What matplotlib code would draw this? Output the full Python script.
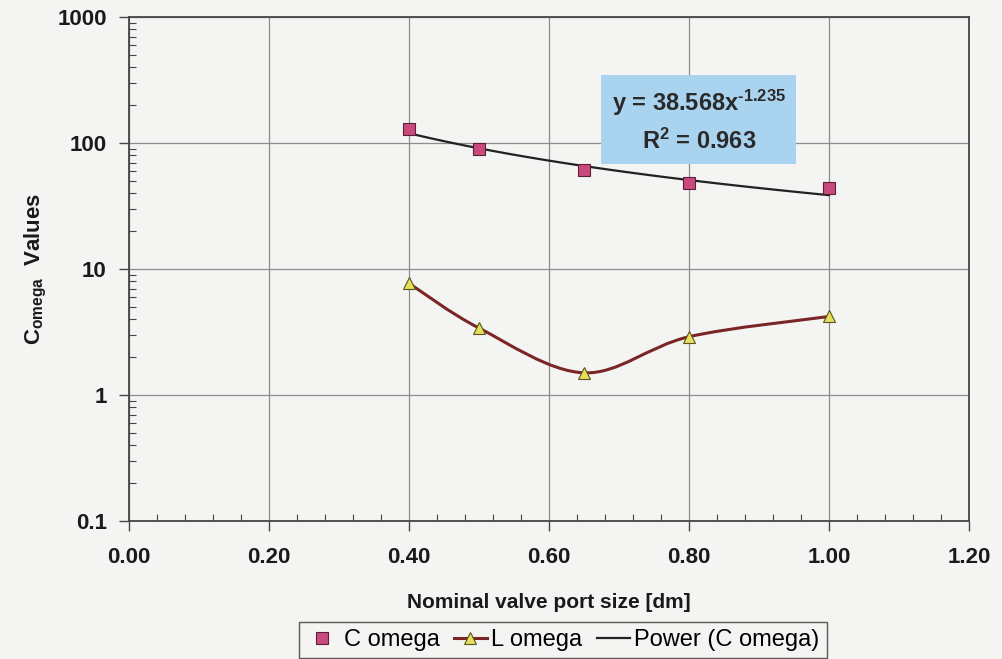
import numpy as np
import matplotlib
matplotlib.use("Agg")
import matplotlib.pyplot as plt
from matplotlib.path import Path
from matplotlib.patches import PathPatch
from matplotlib.lines import Line2D
from matplotlib.ticker import FixedLocator, MultipleLocator, LogLocator, NullFormatter

plt.rcParams["font.family"] = ["Liberation Sans", "DejaVu Sans"]
plt.rcParams["mathtext.fontset"] = "custom"
plt.rcParams["mathtext.rm"] = "Liberation Sans:bold"
plt.rcParams["mathtext.it"] = "Liberation Sans:bold"
plt.rcParams["mathtext.bf"] = "Liberation Sans:bold"

# ---- data ----
port_size = [0.40, 0.50, 0.65, 0.80, 1.00]
c_omega   = [129, 90, 61, 48, 44]
l_omega   = [7.7, 3.4, 1.5, 2.9, 4.2]

# power trendline fitted to C omega
fit_coef = 38.568
fit_exp  = -1.235
fit_r2   = 0.963

x_ticks   = [0.0, 0.2, 0.4, 0.6, 0.8, 1.0, 1.2]
y_ticks   = [0.1, 1, 10, 100, 1000]
y_labels  = ["0.1", "1", "10", "100", "1000"]

BG        = "#f4f4f2"
C_FACE    = "#c94a7c"
C_EDGE    = "#5a2035"
L_LINE    = "#7a2626"
L_FACE    = "#e6df5a"
L_EDGE    = "#5a5520"
GRID      = "#8c8c8c"
SPINE     = "#454545"


def smooth_path(xs, ys):
    """Smoothed line through the points: cubic Bezier segments in (x, log10 y)."""
    p = np.column_stack([xs, np.log10(ys)])
    n = len(p)
    verts = [p[0]]
    codes = [Path.MOVETO]
    for i in range(n - 1):
        prev = p[i - 1] if i > 0 else p[i]
        nxt = p[i + 2] if i + 2 < n else p[i + 1]
        c1 = p[i] + (p[i + 1] - prev) / 6.0
        c2 = p[i + 1] - (nxt - p[i]) / 6.0
        verts += [c1, c2, p[i + 1]]
        codes += [Path.CURVE4] * 3
    return Path(verts, codes)


fig = plt.figure(figsize=(10.03, 6.59), dpi=100, facecolor=BG)
ax = fig.add_axes([0.1286, 0.2094, 0.8375, 0.7648], facecolor=BG)

ax.set_xscale("linear")
ax.set_yscale("log")
ax.set_xlim(0.0, 1.2)
ax.set_ylim(0.1, 1000)

# gridlines and ticks
ax.xaxis.set_major_locator(FixedLocator(x_ticks))
ax.xaxis.set_minor_locator(MultipleLocator(0.04))
ax.yaxis.set_major_locator(FixedLocator(y_ticks))
ax.yaxis.set_minor_locator(LogLocator(base=10, subs=np.arange(2, 10)))
ax.yaxis.set_minor_formatter(NullFormatter())
ax.set_xticklabels([f"{v:.2f}" for v in x_ticks])
ax.set_yticklabels(y_labels)
ax.grid(True, which="major", color=GRID, lw=0.9)
ax.set_axisbelow(True)

ax.tick_params(which="major", direction="out", length=7, width=1.0, color=SPINE,
               labelsize=16)
ax.tick_params(axis="x", which="major", pad=12)
ax.tick_params(axis="y", which="major", pad=9)
ax.tick_params(which="minor", direction="in", length=5, width=0.8, color=SPINE)
for lbl in ax.get_xticklabels() + ax.get_yticklabels():
    lbl.set_fontweight("bold")
    lbl.set_color("#1a1a1a")
for s in ax.spines.values():
    s.set_color(SPINE)
    s.set_linewidth(1.3)

# L omega: smoothed line through points
lpath = smooth_path(port_size, l_omega)
ax.add_patch(PathPatch(lpath, transform=ax.transLimits + ax.transAxes,
                       facecolor="none", edgecolor=L_LINE, lw=2.2, zorder=3))
ax.plot(port_size, l_omega, ls="none", marker="^", ms=8, mfc=L_FACE,
        mec=L_EDGE, mew=0.8, zorder=4)

# power trendline
xf = np.linspace(port_size[0], port_size[-1], 120)
ax.plot(xf, fit_coef * xf ** fit_exp, color="#222222", lw=1.6, zorder=3)

# C omega markers
ax.plot(port_size, c_omega, ls="none", marker="s", ms=8, mfc=C_FACE,
        mec=C_EDGE, mew=0.8, zorder=5)

# trendline equation
eq = (f"y = {fit_coef:.3f}x$^{{\\text{{{fit_exp:.3f}}}}}$\n"
      f"R$^2$ = {fit_r2:.3f}")
ax.text(0.814, 150, eq, ha="center", va="center", fontsize=17, fontweight="bold",
        color="#2a2a2a", linespacing=1.5, zorder=6,
        bbox=dict(boxstyle="square,pad=0.45", facecolor="#a9d3ef", edgecolor="none"))

ax.set_xlabel("Nominal valve port size [dm]", fontsize=15, fontweight="bold",
              labelpad=18, color="#1a1a1a")
ax.set_ylabel(r"C$_{\mathrm{omega}}$  Values", fontsize=16, fontweight="bold",
              labelpad=6, color="#1a1a1a")

handles = [
    Line2D([], [], ls="none", marker="s", ms=8, mfc=C_FACE, mec=C_EDGE, mew=0.8),
    Line2D([], [], color=L_LINE, lw=2.2, marker="^", ms=8, mfc=L_FACE, mec=L_EDGE, mew=0.8),
    Line2D([], [], color="#222222", lw=1.6),
]
leg = fig.legend(handles, ["C omega", "L omega", "Power (C omega)"],
                 loc="upper center", bbox_to_anchor=(0.561, 0.074), ncol=3,
                 fontsize=17, frameon=True, fancybox=False, handlelength=1.4,
                 handletextpad=0.2, columnspacing=0.6, borderpad=0.3)
leg.get_frame().set_edgecolor("#333333")
leg.get_frame().set_facecolor(BG)
leg.get_frame().set_linewidth(1.0)

fig.savefig("out.png", dpi=100, facecolor=BG)
